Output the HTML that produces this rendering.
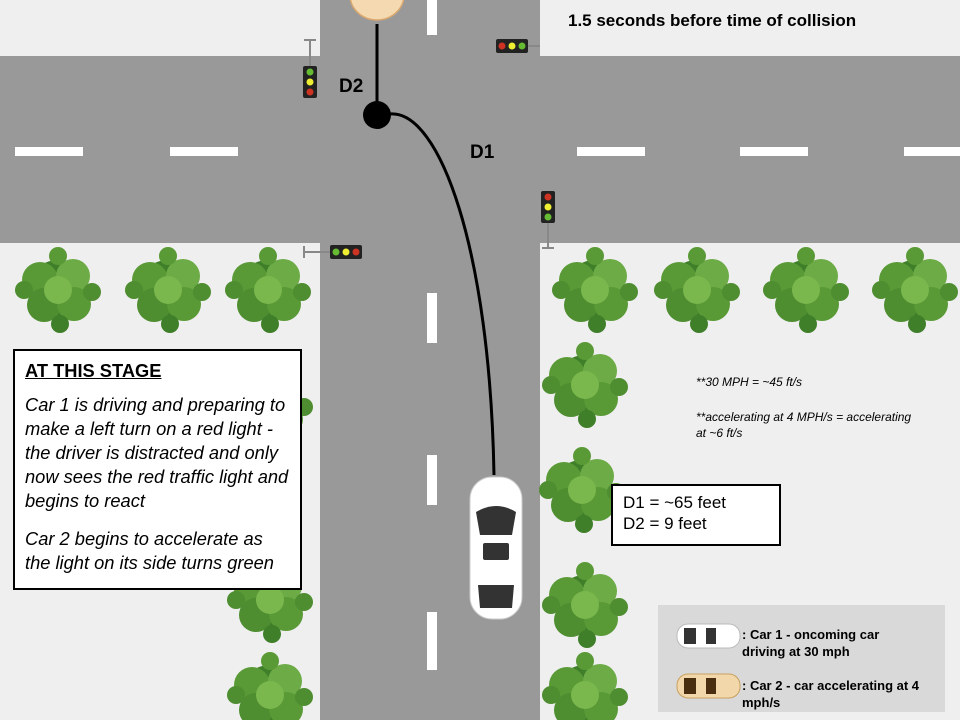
<!DOCTYPE html>
<html><head><style>
body{margin:0;width:960px;height:720px;overflow:hidden;background:#efefef;font-family:"Liberation Sans",sans-serif;position:relative}
.a{position:absolute}
</style></head><body>
<svg class="a" style="left:0;top:0" width="960" height="720">
<defs>
<g id="bush">
<circle cx="0" cy="0" r="30" fill="#3f7f2a"/>
<circle cx="-18" cy="-10" r="18" fill="#5a9a36"/>
<circle cx="15" cy="-14" r="17" fill="#6cab45"/>
<circle cx="-14" cy="15" r="17" fill="#4e8d30"/>
<circle cx="16" cy="14" r="17" fill="#5a9a36"/>
<circle cx="0" cy="0" r="14" fill="#7ab84e"/>
<circle cx="-34" cy="0" r="9" fill="#4e8d30"/>
<circle cx="34" cy="2" r="9" fill="#4e8d30"/>
<circle cx="0" cy="-34" r="9" fill="#5a9a36"/>
<circle cx="2" cy="34" r="9" fill="#3f7f2a"/>
</g>
</defs>
<rect x="0" y="56" width="960" height="187" fill="#999"/>
<rect x="320" y="0" width="220" height="720" fill="#999"/>
<g fill="#fff">
<rect x="15" y="147" width="68" height="9"/><rect x="170" y="147" width="68" height="9"/>
<rect x="577" y="147" width="68" height="9"/><rect x="740" y="147" width="68" height="9"/><rect x="904" y="147" width="56" height="9"/>
<rect x="427" y="0" width="10" height="35"/><rect x="427" y="293" width="10" height="50"/>
<rect x="427" y="455" width="10" height="50"/><rect x="427" y="612" width="10" height="58"/>
</g>
<use href="#bush" x="58" y="290"/><use href="#bush" x="168" y="290"/><use href="#bush" x="268" y="290"/>
<use href="#bush" x="595" y="290"/><use href="#bush" x="697" y="290"/><use href="#bush" x="806" y="290"/><use href="#bush" x="915" y="290"/>
<use href="#bush" x="585" y="385"/><use href="#bush" x="582" y="490"/><use href="#bush" x="585" y="605"/><use href="#bush" x="585" y="695"/>
<use href="#bush" x="270" y="405"/><use href="#bush" x="270" y="600"/><use href="#bush" x="270" y="695"/>
<g stroke="#888" stroke-width="2"><line x1="310" y1="40" x2="310" y2="66"/><line x1="304" y1="40" x2="316" y2="40"/>
<line x1="528" y1="46" x2="554" y2="46"/><line x1="554" y1="40" x2="554" y2="52"/>
<line x1="548" y1="222" x2="548" y2="248"/><line x1="542" y1="248" x2="554" y2="248"/>
<line x1="304" y1="252" x2="330" y2="252"/><line x1="304" y1="246" x2="304" y2="258"/></g>
<rect x="303" y="66" width="14" height="32" rx="2" fill="#222"/>
<circle cx="310" cy="72" r="3.5" fill="#6b3"/><circle cx="310" cy="82" r="3.5" fill="#ee3"/><circle cx="310" cy="92" r="3.5" fill="#c32"/>
<rect x="496" y="39" width="32" height="14" rx="2" fill="#222"/>
<circle cx="502" cy="46" r="3.5" fill="#c32"/><circle cx="512" cy="46" r="3.5" fill="#ee3"/><circle cx="522" cy="46" r="3.5" fill="#6b3"/>
<rect x="541" y="191" width="14" height="32" rx="2" fill="#222"/>
<circle cx="548" cy="197" r="3.5" fill="#c32"/><circle cx="548" cy="207" r="3.5" fill="#ee3"/><circle cx="548" cy="217" r="3.5" fill="#6b3"/>
<rect x="330" y="245" width="32" height="14" rx="2" fill="#222"/>
<circle cx="336" cy="252" r="3.5" fill="#6b3"/><circle cx="346" cy="252" r="3.5" fill="#ee3"/><circle cx="356" cy="252" r="3.5" fill="#c32"/>
<ellipse cx="377" cy="-5" rx="27" ry="25" fill="#f5d9b0" stroke="#d9a870" stroke-width="1.5"/>
<line x1="377" y1="24" x2="377" y2="115" stroke="#000" stroke-width="3"/>
<circle cx="377" cy="115" r="14" fill="#000"/>
<path d="M390 114 C440 110 490 250 494 475" fill="none" stroke="#000" stroke-width="3"/>
<rect x="470" y="477" width="52" height="142" rx="22" fill="#fff" stroke="#ccc"/>
<path d="M476 512 Q496 500 516 512 L512 535 L480 535 Z" fill="#333"/>
<rect x="483" y="543" width="26" height="17" rx="2" fill="#333"/>
<path d="M478 585 L514 585 L512 608 L480 608 Z" fill="#333"/>
<rect x="658" y="605" width="287" height="107" fill="#d9d9d9"/>
<rect x="677" y="624" width="63" height="24" rx="11" fill="#fff" stroke="#bbb"/>
<rect x="684" y="628" width="12" height="16" fill="#333"/><rect x="706" y="628" width="10" height="16" fill="#333"/>
<rect x="677" y="674" width="63" height="24" rx="11" fill="#f2d7aa" stroke="#c9a060"/>
<rect x="684" y="678" width="12" height="16" fill="#4a2e10"/><rect x="706" y="678" width="10" height="16" fill="#4a2e10"/>
</svg>
<div class="a" style="left:540px;top:0;width:420px;height:56px;background:#efefef"></div>
<div class="a" style="left:568px;top:11px;font-size:17px;font-weight:bold">1.5 seconds before time of collision</div>
<div class="a" style="left:339px;top:76px;font-size:19px;font-weight:bold">D2</div>
<div class="a" style="left:470px;top:142px;font-size:19px;font-weight:bold">D1</div>
<div class="a" style="left:13px;top:349px;width:289px;height:241px;background:#fff;border:2px solid #000;padding:0 6px 0 10px;box-sizing:border-box;font-size:18.3px;line-height:24px">
<div style="margin-top:8px;font-weight:bold;text-decoration:underline">AT THIS STAGE</div>
<div style="margin-top:10px;font-style:italic">Car 1 is driving and preparing to make a left turn on a red light - the driver is distracted and only now sees the red traffic light and begins to react</div>
<div style="margin-top:14px;font-style:italic">Car 2 begins to accelerate as<br>the light on its side turns green</div>
</div>
<div class="a" style="left:696px;top:375px;font-size:12px;font-style:italic">**30 MPH = ~45 ft/s</div>
<div class="a" style="left:696px;top:409px;width:242px;font-size:12px;font-style:italic;line-height:16px">**accelerating at 4 MPH/s = accelerating<br>at ~6 ft/s</div>
<div class="a" style="left:611px;top:484px;width:170px;height:62px;background:#fff;border:2px solid #000;box-sizing:border-box;padding:6px 0 0 10px;font-size:17px;line-height:21px">D1 = ~65 feet<br>D2 = 9 feet</div>
<div class="a" style="left:742px;top:626px;font-size:13px;font-weight:bold;line-height:17px">: Car 1 - oncoming car<br>driving at 30 mph</div>
<div class="a" style="left:742px;top:677px;font-size:13px;font-weight:bold;line-height:17px">: Car 2 - car accelerating at 4<br>mph/s</div>
</body></html>
